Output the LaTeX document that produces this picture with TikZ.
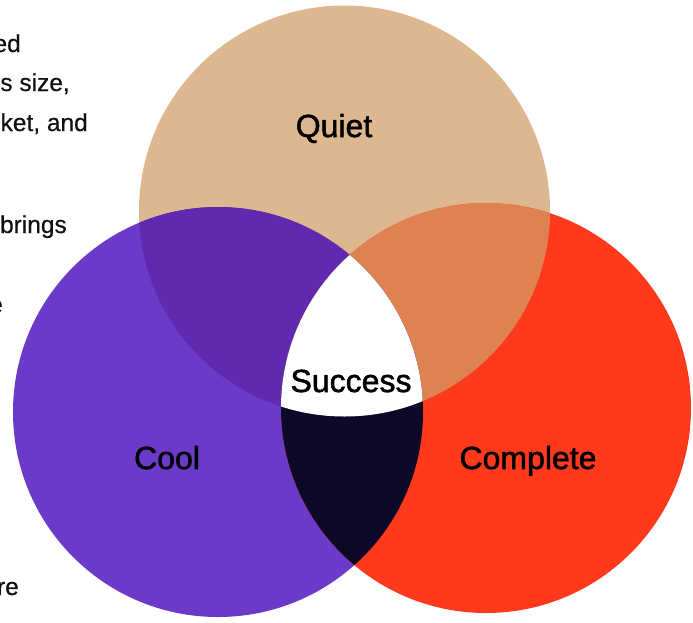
\documentclass[tikz,border=0pt]{standalone}
\usepackage{fontspec}
\setmainfont{Liberation Sans}
\newfontfamily\labelfont[FakeBold=1.6]{Liberation Sans}
\newfontfamily\bodyfont[FakeBold=0.4]{Liberation Sans}
\definecolor{quietc}{HTML}{DDB78F}
\definecolor{coolc}{HTML}{6C3AC8}
\definecolor{compc}{HTML}{FF391C}
\definecolor{qcool}{HTML}{6129B0}
\definecolor{qcomp}{HTML}{DE8252}
\definecolor{coolcomp}{HTML}{0C0828}
\definecolor{inkc}{HTML}{111111}
\tikzset{
  setlabel/.style={font=\labelfont\fontsize{32}{38}\selectfont, text=black, inner sep=0pt, anchor=base},
  sidetext/.style={font=\bodyfont\fontsize{24.5}{29}\selectfont, text=inkc, inner sep=0pt, anchor=base east},
}
\begin{document}
\begin{tikzpicture}[x=1pt,y=-1pt]
\useasboundingbox (0,0) rectangle (693,622);
\clip (0,0) rectangle (693,622);
\fill[white] (0,0) rectangle (693,622);

% centres of the three sets
\coordinate (Q) at (344.5,211);
\coordinate (L) at (218,412);
\coordinate (R) at (486,408);
\def\rq{205.5pt}
\def\rl{205pt}
\def\rr{205pt}

% paragraph running off the left edge
\node[sidetext] (t1) at (21,52) {ed};
\node[sidetext] (t2) at (70,91) {s size,};
\node[sidetext] (t3) at (88,131) {ket, and};
\node[sidetext] (t4) at (67,233) {brings};
\node[sidetext] (t5) at (3,313) {e};
\node[sidetext] (t6) at (19,595) {re};

% single sets
\fill[quietc] (Q) circle[radius=\rq];
\fill[coolc] (L) circle[radius=\rl];
\fill[compc] (R) circle[radius=\rr];

% pairwise overlaps
\begin{scope}
  \clip (Q) circle[radius=\rq];
  \fill[qcool] (L) circle[radius=\rl];
\end{scope}
\begin{scope}
  \clip (Q) circle[radius=\rq];
  \fill[qcomp] (R) circle[radius=\rr];
\end{scope}
\begin{scope}
  \clip (L) circle[radius=\rl];
  \fill[coolcomp] (R) circle[radius=\rr];
\end{scope}
% all three
\begin{scope}
  \clip (Q) circle[radius=\rq];
  \clip (L) circle[radius=\rl];
  \fill[white] (R) circle[radius=\rr];
\end{scope}

% labels
\node[setlabel] (quiet) at (334,137) {Quiet};
\node[setlabel] (success) at (351,392) {Success};
\node[setlabel] (cool) at (167,469) {Cool};
\node[setlabel] (complete) at (528,469) {Complete};
\end{tikzpicture}
\end{document}
